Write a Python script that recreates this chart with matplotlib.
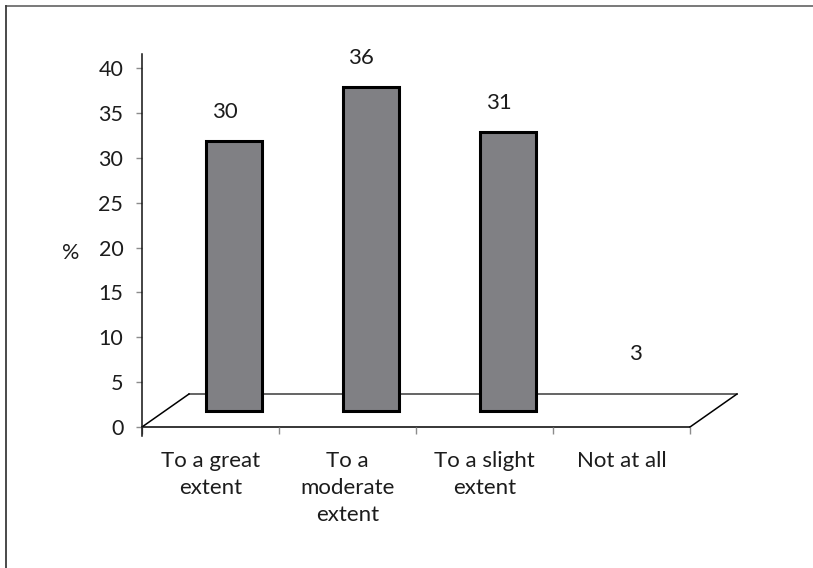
import matplotlib
matplotlib.use("Agg")
import matplotlib.pyplot as plt
from matplotlib.patches import Polygon
from matplotlib.lines import Line2D

categories = ["To a great\nextent", "To a\nmoderate\nextent", "To a slight\nextent", "Not at all"]
values = [30, 36, 31, 3]
labels = ["30", "36", "31", "3"]
yticks = [0, 5, 10, 15, 20, 25, 30, 35, 40]

plt.rcParams["font.family"] = ["Lato", "DejaVu Sans"]
TEXT = "#1c1c1c"

W, H = 813, 568
fig = plt.figure(figsize=(W / 100, H / 100), dpi=100)
fig.patch.set_facecolor("white")

# axes box in pixels: x 142..690 (4 categories), y 427 (0) .. 54 (top)
px_per_unit = (427 - 68) / 40.0
ytop = (427 - 54) / px_per_unit
ax = fig.add_axes([142 / W, (H - 427) / H, 548 / W, (427 - 54) / H])
ax.set_xlim(0, len(categories))
ax.set_ylim(0, ytop)
ax.patch.set_alpha(0)

for s in ax.spines.values():
    s.set_visible(False)

# pseudo-3D floor depth
dx = 47 / 137.0
dy = 33 / px_per_unit

floor = Polygon([(0, 0), (4, 0), (4 + dx, dy), (dx, dy)], closed=True,
                facecolor="white", edgecolor="none", zorder=1, clip_on=False)
ax.add_patch(floor)
ax.add_line(Line2D([dx, 4 + dx], [dy, dy], color="#3a3a3a", lw=1.1, zorder=1.5, clip_on=False))
ax.add_line(Line2D([0, dx], [0, dy], color="black", lw=1.1, zorder=1.5, clip_on=False))
ax.add_line(Line2D([4, 4 + dx], [0, dy], color="black", lw=1.1, zorder=1.5, clip_on=False))
ax.add_line(Line2D([0, 4], [0, 0], color="black", lw=1.1, zorder=1.5, clip_on=False))

# value axis line, running a little below zero
ax.add_line(Line2D([0, 0], [-9 / px_per_unit, ytop], color="#111111", lw=1.1,
                   zorder=3, clip_on=False))

# bars standing in the middle of the floor depth
xs = [i + 0.5 + dx / 2 for i in range(len(values))]
bars = ax.bar(xs, values, width=56 / 137.0, bottom=dy / 2, color="#808084",
              edgecolor="black", linewidth=2.2, zorder=2)
bars[3].set_visible(False)

for x, v, t in zip(xs, values, labels):
    ax.text(x - 0.07, dy / 2 + v + 3.3, t, ha="center", va="center",
            fontsize=16, color=TEXT, zorder=4)

# y ticks
ax.set_yticks(yticks)
ax.set_yticklabels([str(t) for t in yticks])
ax.tick_params(axis="y", direction="out", length=4.5, width=1.0, color="#8c8c8c",
               labelsize=15.5, labelcolor=TEXT, pad=9)

# x ticks at category boundaries, labels centred on the categories
ax.set_xticks(range(len(categories) + 1))
ax.set_xticklabels([""] * (len(categories) + 1))
ax.tick_params(axis="x", which="major", direction="out", length=5, width=1.0,
               color="#8c8c8c")
ax.set_xticks([i + 0.5 for i in range(len(categories))], minor=True)
ax.set_xticklabels(categories, minor=True, fontsize=16, color=TEXT,
                   linespacing=1.45, va="top")
ax.tick_params(axis="x", which="minor", length=0, pad=17)

fig.text(71 / W, 1 - 253 / H, "%", ha="center", va="center", fontsize=15.5, color=TEXT)

# chart frame (top and left edges)
fig.add_artist(Line2D([5.5 / W, 1.0], [1 - 5.5 / H, 1 - 5.5 / H],
                      transform=fig.transFigure, color="#6e6e6e", lw=1.3))
fig.add_artist(Line2D([5.5 / W, 5.5 / W], [1 - 5.5 / H, 0.0],
                      transform=fig.transFigure, color="#3c3c3c", lw=1.3))

fig.savefig("out.png", dpi=100)
